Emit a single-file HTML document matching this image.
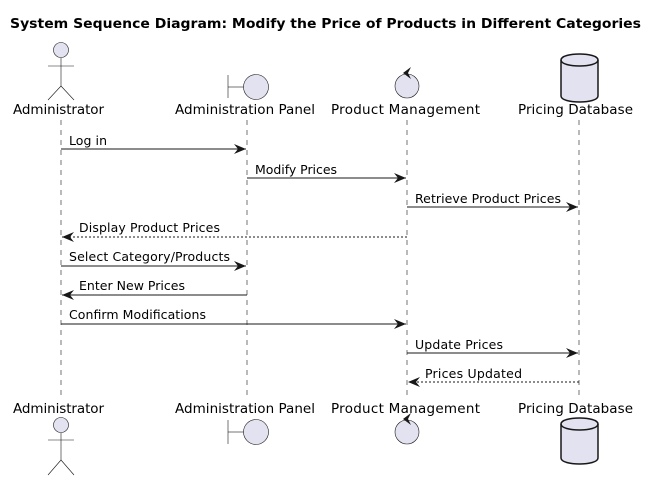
<!DOCTYPE html>
<html><head><meta charset="utf-8"><style>
html,body{margin:0;padding:0;background:#fff;}
svg{display:block;}
text{font-family:"DejaVu Sans","Liberation Sans",sans-serif;}
</style></head><body>
<svg width="659" height="480" viewBox="0 0 659 480" xmlns="http://www.w3.org/2000/svg">
<defs>
<marker id="ah" viewBox="0 0 12 10" refX="12" refY="5" markerWidth="12" markerHeight="10" markerUnits="userSpaceOnUse" orient="auto">
<path d="M0,0 L12,5 L0,10 L4,5 Z" fill="#181818"/>
</marker>
</defs>
<text x="10" y="28" font-size="13" font-weight="bold" fill="#000" textLength="631" lengthAdjust="spacingAndGlyphs">System Sequence Diagram: Modify the Price of Products in Different Categories</text>

<g stroke="#181818" stroke-width="0.6" stroke-dasharray="5,5">
<line x1="61" y1="120" x2="61" y2="398"/>
<line x1="247" y1="120" x2="247" y2="398"/>
<line x1="407" y1="120" x2="407" y2="398"/>
<line x1="579" y1="120" x2="579" y2="398"/>
</g>

<g fill="#E2E2F0" stroke="#181818" stroke-width="0.6">
<circle cx="61" cy="50" r="7.5"/>
<line x1="61" y1="58" x2="61" y2="86"/>
<line x1="48" y1="66" x2="74" y2="66"/>
<line x1="61" y1="86" x2="48" y2="100"/>
<line x1="61" y1="86" x2="74" y2="100"/>
<line x1="228" y1="75" x2="228" y2="98"/>
<line x1="228" y1="87" x2="244" y2="87"/>
<circle cx="256" cy="87" r="12.5"/>
<circle cx="407" cy="86" r="12"/>
</g>
<path d="M403,73 L411,67 L408,73 L411,79 Z" fill="#181818"/>
<path d="M561,60 C561,52 598,52 598,60 L598,96 C598,104 561,104 561,96 Z" fill="#E2E2F0" stroke="#181818" stroke-width="1.5"/>
<path d="M561,60 C561,68 598,68 598,60" fill="none" stroke="#181818" stroke-width="1.5"/>

<g font-size="13.5" fill="#000" lengthAdjust="spacingAndGlyphs">
<text x="13" y="114" textLength="91">Administrator</text>
<text x="175" y="114" textLength="140">Administration Panel</text>
<text x="331" y="114" textLength="149">Product Management</text>
<text x="518" y="114" textLength="115">Pricing Database</text>
<text x="13" y="413" textLength="91">Administrator</text>
<text x="175" y="413" textLength="140">Administration Panel</text>
<text x="331" y="413" textLength="149">Product Management</text>
<text x="518" y="413" textLength="115">Pricing Database</text>
</g>

<g fill="#E2E2F0" stroke="#181818" stroke-width="0.6">
<circle cx="61" cy="425" r="7.5"/>
<line x1="61" y1="433" x2="61" y2="460"/>
<line x1="48" y1="440" x2="74" y2="440"/>
<line x1="61" y1="460" x2="48" y2="475"/>
<line x1="61" y1="460" x2="74" y2="475"/>
<line x1="228" y1="420" x2="228" y2="444"/>
<line x1="228" y1="432" x2="244" y2="432"/>
<circle cx="256" cy="432" r="12.5"/>
<circle cx="407" cy="432" r="12"/>
</g>
<path d="M403,419 L411,413 L408,419 L411,425 Z" fill="#181818"/>
<path d="M561,424 C561,416 598,416 598,424 L598,458 C598,466 561,466 561,458 Z" fill="#E2E2F0" stroke="#181818" stroke-width="1.5"/>
<path d="M561,424 C561,432 598,432 598,424" fill="none" stroke="#181818" stroke-width="1.5"/>

<g stroke="#181818" stroke-width="1" fill="none" marker-end="url(#ah)">
<line x1="61" y1="149" x2="246" y2="149"/>
<line x1="247" y1="178" x2="406" y2="178"/>
<line x1="407" y1="207" x2="578" y2="207"/>
<line x1="407" y1="237" x2="62" y2="237" stroke-dasharray="2,2"/>
<line x1="61" y1="266" x2="246" y2="266"/>
<line x1="247" y1="295" x2="62" y2="295"/>
<line x1="61" y1="324" x2="406" y2="324"/>
<line x1="407" y1="353" x2="578" y2="353"/>
<line x1="579" y1="382" x2="408" y2="382" stroke-dasharray="2,2"/>
</g>
<g font-size="12.5" fill="#000" lengthAdjust="spacingAndGlyphs">
<text x="69" y="145" textLength="38">Log in</text>
<text x="255" y="174" textLength="82">Modify Prices</text>
<text x="415" y="203" textLength="146">Retrieve Product Prices</text>
<text x="79" y="232" textLength="141">Display Product Prices</text>
<text x="69" y="261" textLength="161">Select Category/Products</text>
<text x="79" y="290" textLength="106">Enter New Prices</text>
<text x="69" y="319" textLength="137">Confirm Modifications</text>
<text x="415" y="349" textLength="88">Update Prices</text>
<text x="425" y="378" textLength="97">Prices Updated</text>
</g>
</svg>
</body></html>
